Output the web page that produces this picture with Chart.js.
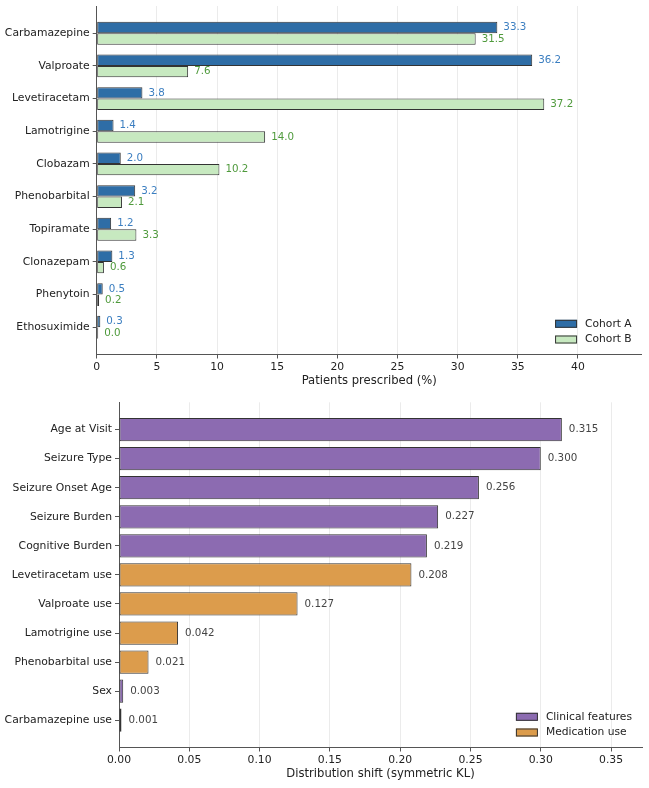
<!DOCTYPE html>
<html>
<head>
<meta charset="utf-8">
<script src="https://cdn.jsdelivr.net/npm/chart.js@4.4.1/dist/chart.umd.min.js"></script>
<style>
  body { margin: 0; background: #fff; }
  canvas { display: block; }
</style>
</head>
<body>
<canvas id="top" width="649" height="395"></canvas>
<canvas id="bottom" width="649" height="393"></canvas>
<script>
/* data - top panel */
const drugs = ['Carbamazepine', 'Valproate', 'Levetiracetam', 'Lamotrigine', 'Clobazam',
  'Phenobarbital', 'Topiramate', 'Clonazepam', 'Phenytoin', 'Ethosuximide'];
const cohortA = [33.3, 36.2, 3.8, 1.4, 2.0, 3.2, 1.2, 1.3, 0.5, 0.3];
const cohortB = [31.5, 7.6, 37.2, 14.0, 10.2, 2.1, 3.3, 0.6, 0.2, 0.0];
const topTicks = [0, 5, 10, 15, 20, 25, 30, 35, 40];

/* data - bottom panel */
const features = ['Age at Visit', 'Seizure Type', 'Seizure Onset Age', 'Seizure Burden',
  'Cognitive Burden', 'Levetiracetam use', 'Valproate use', 'Lamotrigine use',
  'Phenobarbital use', 'Sex', 'Carbamazepine use'];
const klShift = [0.315, 0.300, 0.256, 0.227, 0.219, 0.208, 0.127, 0.042, 0.021, 0.003, 0.001];
const featGroup = ['Clinical features', 'Clinical features', 'Clinical features', 'Clinical features',
  'Clinical features', 'Medication use', 'Medication use', 'Medication use',
  'Medication use', 'Clinical features', 'Medication use'];
const bottomTicks = [0, 0.05, 0.10, 0.15, 0.20, 0.25, 0.30, 0.35];

const FONT = 'DejaVu Sans';
Chart.defaults.font.family = FONT;
Chart.defaults.font.size = 10.8;
Chart.defaults.color = '#222';

const groupColors = { 'Clinical features': '#8c6bb1', 'Medication use': '#dc9c4c' };
const edge = '#333';
const spine = '#555';
const gridCol = '#ebebeb';

// value text at bar ends
const valueLabels = {
  id: 'valueLabels',
  afterDatasetsDraw(chart, args, opts) {
    const ctx = chart.ctx;
    ctx.save();
    ctx.font = '10.3px "' + FONT + '"';
    ctx.textBaseline = 'middle';
    ctx.textAlign = 'left';
    chart.data.datasets.forEach((ds, di) => {
      const meta = chart.getDatasetMeta(di);
      ctx.fillStyle = opts.colors[di];
      meta.data.forEach((bar, i) => {
        ctx.fillText(ds.data[i].x.toFixed(opts.digits), bar.x + opts.offset, bar.y);
      });
    });
    ctx.restore();
  }
};

// legend inside lower right corner
const cornerLegend = {
  id: 'cornerLegend',
  afterDraw(chart, args, opts) {
    const ctx = chart.ctx;
    const a = chart.chartArea;
    ctx.save();
    ctx.font = '10.7px "' + FONT + '"';
    const tw = Math.max(...opts.items.map(it => ctx.measureText(it.label).width));
    const textX = a.right - 10 - tw;
    const boxX = textX - 8 - 22;
    const n = opts.items.length;
    opts.items.forEach((it, k) => {
      const cy = a.bottom - 15 - (n - 1 - k) * 15.7;
      ctx.fillStyle = it.color;
      ctx.fillRect(boxX, cy - 4, 22, 8);
      ctx.strokeStyle = edge;
      ctx.lineWidth = 1;
      ctx.strokeRect(boxX + 0.5, cy - 3.5, 21, 7);
      ctx.fillStyle = '#222';
      ctx.textBaseline = 'middle';
      ctx.fillText(it.label, textX, cy);
    });
    ctx.restore();
  }
};

function makeScales(cats, ticks, xmax, yPad, yWidth, fmt, title) {
  return {
    x: {
      type: 'linear', min: 0, max: xmax,
      afterBuildTicks: s => { s.ticks = ticks.map(v => ({ value: v })); },
      afterFit: s => { s.height = 40.5; s.paddingLeft = 0; s.paddingRight = 0; },
      grid: { color: gridCol, lineWidth: 1, tickLength: 4, tickColor: spine, drawTicks: true },
      border: { display: true, color: spine, width: 1 },
      ticks: { padding: 2, color: '#222', callback: v => fmt(v), maxRotation: 0 },
      title: { display: true, text: title, font: { size: 11.6 }, color: '#222', padding: { top: 3, bottom: 7 } }
    },
    y: {
      type: 'linear', reverse: true, offset: false, min: -yPad, max: cats.length - 1 + yPad,
      afterBuildTicks: s => { s.ticks = cats.map((c, i) => ({ value: i })); },
      afterFit: s => { s.width = yWidth; s.paddingTop = 0; s.paddingBottom = 0; },
      grid: { offset: false, drawOnChartArea: false, tickLength: 4, tickColor: spine },
      border: { display: true, color: spine, width: 1 },
      ticks: { padding: 3, color: '#222', autoSkip: false, callback: v => cats[v] }
    }
  };
}

new Chart(document.getElementById('top'), {
  type: 'bar',
  data: {
    datasets: [
      { label: 'Cohort A', data: cohortA.map((v, i) => ({ x: v, y: i })),
        backgroundColor: '#2e6da6', borderColor: edge, borderWidth: 1, borderSkipped: false },
      { label: 'Cohort B', data: cohortB.map((v, i) => ({ x: v, y: i })),
        backgroundColor: '#c7e9c0', borderColor: edge, borderWidth: 1, borderSkipped: false }
    ]
  },
  options: {
    indexAxis: 'y',
    responsive: false,
    animation: false,
    layout: { padding: { top: 6, right: 7.3, left: 0, bottom: 0 } },
    datasets: { bar: { categoryPercentage: 0.7, barPercentage: 1.0, minBarLength: 1.5 } },
    scales: makeScales(drugs, topTicks, 45.3, 0.835, 96.7, v => String(v), 'Patients prescribed (%)'),
    plugins: {
      legend: { display: false },
      tooltip: { enabled: false },
      valueLabels: { colors: ['#3b7ec0', '#4f9a3c'], digits: 1, offset: 6 },
      cornerLegend: { items: [
        { label: 'Cohort A', color: '#2e6da6' },
        { label: 'Cohort B', color: '#c7e9c0' }
      ] }
    }
  },
  plugins: [valueLabels, cornerLegend]
});

new Chart(document.getElementById('bottom'), {
  type: 'bar',
  data: {
    datasets: [
      { label: 'KL', data: klShift.map((v, i) => ({ x: v, y: i })),
        backgroundColor: featGroup.map(g => groupColors[g]), borderColor: edge,
        borderWidth: 1, borderSkipped: false }
    ]
  },
  options: {
    indexAxis: 'y',
    responsive: false,
    animation: false,
    layout: { padding: { top: 7.3, right: 7, left: 0, bottom: 0 } },
    datasets: { bar: { categoryPercentage: 1.0, barPercentage: 0.8, minBarLength: 2.5 } },
    scales: makeScales(features, bottomTicks, 0.372, 0.94, 119, v => v.toFixed(2), 'Distribution shift (symmetric KL)'),
    plugins: {
      legend: { display: false },
      tooltip: { enabled: false },
      valueLabels: { colors: ['#444'], digits: 3, offset: 7 },
      cornerLegend: { items: [
        { label: 'Clinical features', color: groupColors['Clinical features'] },
        { label: 'Medication use', color: groupColors['Medication use'] }
      ] }
    }
  },
  plugins: [valueLabels, cornerLegend]
});
</script>
</body>
</html>
